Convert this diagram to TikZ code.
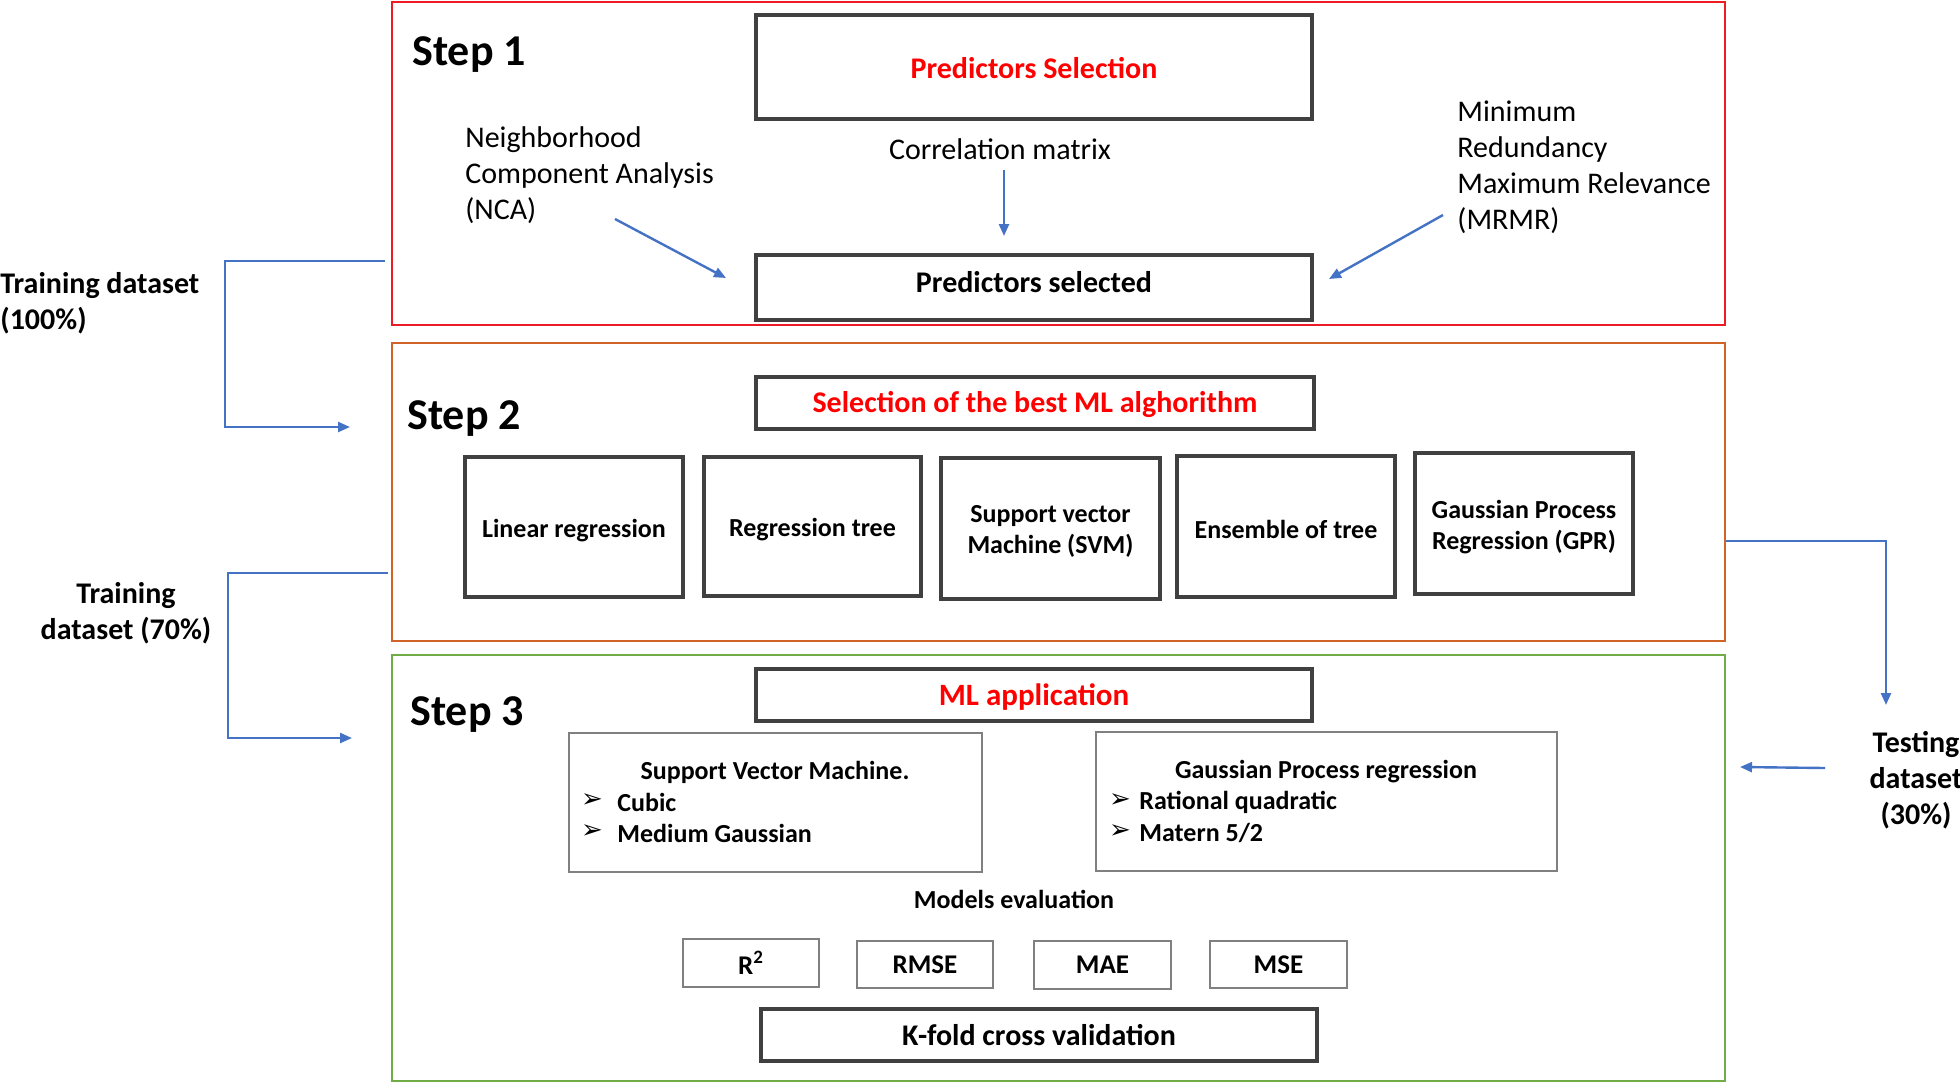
\documentclass[tikz,border=0pt]{standalone}
\usepackage{fontspec}
\setmainfont{Carlito}
\newfontfamily\dejavu{DejaVu Sans}
\usetikzlibrary{fit,arrows.meta}
\definecolor{stepred}{RGB}{237,28,36}
\definecolor{steporange}{RGB}{208,100,40}
\definecolor{stepgreen}{RGB}{112,173,71}
\definecolor{darkframe}{RGB}{64,64,64}
\definecolor{grayframe}{RGB}{128,128,128}
\definecolor{flowblue}{RGB}{68,114,196}
\definecolor{titlered}{RGB}{255,0,0}
\tikzset{
  stepframe/.style={draw=#1, line width=1.1pt, inner sep=0pt},
  darkbox/.style={draw=darkframe, line width=1.7pt, inner sep=0pt},
  graybox/.style={draw=grayframe, line width=1.1pt, inner sep=0pt},
  flow/.style={draw=flowblue, line width=1.2pt, -{Triangle[length=6pt,width=5pt]}},
  steplabel/.style={font=\fontsize{22}{26}\selectfont\bfseries, inner sep=0pt},
  redtitle/.style={font=\fontsize{15}{18}\selectfont\bfseries, text=titlered, inner sep=0pt},
  plaintext/.style={font=\fontsize{15}{18}\selectfont, inner sep=0pt, align=left},
  boxtext/.style={font=\fontsize{13}{15.5}\selectfont\bfseries, inner sep=0pt, align=center},
  algtext/.style={boxtext, yshift=-1.6pt},
  bullet/.style={font=\dejavu\fontsize{13}{15}\selectfont, inner sep=0pt},
  sidetext/.style={font=\fontsize{15}{18}\selectfont\bfseries, inner sep=0pt},
}
\begin{document}
\begin{tikzpicture}[x=0.5pt,y=-0.5pt]
\useasboundingbox (0,0) rectangle (1960,1083);
% step frames
\node[stepframe=stepred, fit={(392,2)(1725,325)}] (s1) {};
\node[stepframe=steporange, fit={(392,343)(1725,641)}] (s2) {};
\node[stepframe=stepgreen, fit={(392,655)(1725,1081)}] (s3) {};
\node[steplabel, anchor=west] (l1) at (412,55) {Step 1};
\node[steplabel, anchor=west] (l2) at (407,419) {Step 2};
\node[steplabel, anchor=west] (l3) at (410,715) {Step 3};

% step 1
\node[darkbox, fit={(756,15)(1312,119)}] (ps) {};
\node[redtitle] (pst) at ([yshift=-0.5pt]ps.center) {Predictors Selection};
\node[darkbox, fit={(756,255)(1312,320)}] (pd) {};
\node[font=\fontsize{15}{18}\selectfont\bfseries, inner sep=0pt] (pdt) at (1034,282) {Predictors selected};
\node[plaintext, anchor=center] (corr) at (1000,149) {Correlation matrix};
\node[plaintext, anchor=west] (nca) at (465,175) {Neighborhood\\Component Analysis\\(NCA)};
\node[plaintext, anchor=west] (mrmr) at (1457,167) {Minimum\\Redundancy\\Maximum Relevance\\(MRMR)};
\coordinate (ca) at (1004,170);
\coordinate (cb) at (1004,236);
\coordinate (na) at (615,219);
\coordinate (nb) at (726,278);
\coordinate (ma) at (1443,215);
\coordinate (mb) at (1329,279);
\draw[flow] (ca) -- (cb);
\draw[flow] (na) -- (nb);
\draw[flow] (ma) -- (mb);

% step 2
\node[darkbox, fit={(756,377)(1314,429)}] (sb) {};
\node[redtitle] (sbt) at ([yshift=-0.5pt]sb.center) {Selection of the best ML alghorithm};
\node[darkbox, fit={(465,457)(683,597)}] (m1) {};
\node[darkbox, fit={(704,457)(921,596)}] (m2) {};
\node[darkbox, fit={(941,458)(1160,599)}] (m3) {};
\node[darkbox, fit={(1177,456)(1395,597)}] (m4) {};
\node[darkbox, fit={(1415,453)(1633,594)}] (m5) {};
\node[algtext] at (m1.center) {Linear regression};
\node[algtext] at (m2.center) {Regression tree};
\node[algtext] at (m3.center) {Support vector\\Machine (SVM)};
\node[algtext] at (m4.center) {Ensemble of tree};
\node[algtext] at (m5.center) {Gaussian Process\\Regression (GPR)};

% step 3
\node[darkbox, fit={(756,669)(1312,721)}] (mla) {};
\node[redtitle, font=\fontsize{15.5}{18}\selectfont\bfseries] at (1034,697) {ML application};
\node[graybox, fit={(569,733)(982,872)}] (svm) {};
\node[graybox, fit={(1096,732)(1557,871)}] (gpr) {};
\node[boxtext] at (775,772) {Support Vector Machine.};
\node[bullet] at (592,801) {➢};
\node[boxtext, anchor=west] at (617,802) {Cubic};
\node[bullet] at (592,832) {➢};
\node[boxtext, anchor=west] at (617,833) {Medium Gaussian};
\node[boxtext] at (1326,772) {Gaussian Process regression};
\node[bullet] at (1120,801) {➢};
\node[boxtext, anchor=west] at (1139,802) {Rational quadratic};
\node[bullet] at (1120,832) {➢};
\node[boxtext, anchor=west] at (1139,833) {Matern 5/2};
\node[boxtext] (me) at (1014,899) {Models evaluation};
\node[graybox, fit={(683,939)(819,987)}] (r2) {};
\node[graybox, fit={(857,941)(993,988)}] (rmse) {};
\node[graybox, fit={(1034,941)(1171,989)}] (mae) {};
\node[graybox, fit={(1210,941)(1347,988)}] (mse) {};
\node[boxtext, font=\fontsize{13.5}{16}\selectfont\bfseries] at (r2.center) {R\textsuperscript{2}};
\node[boxtext, font=\fontsize{13.5}{16}\selectfont\bfseries] at (rmse.center) {RMSE};
\node[boxtext, font=\fontsize{13.5}{16}\selectfont\bfseries] at (mae.center) {MAE};
\node[boxtext, font=\fontsize{13.5}{16}\selectfont\bfseries] at (mse.center) {MSE};
\node[darkbox, fit={(761,1009)(1317,1061)}] (kf) {};
\node[font=\fontsize{15}{18}\selectfont\bfseries, inner sep=0pt] at (kf.center) {K-fold cross validation};

% side labels
\node[sidetext, anchor=west, align=left] (tr1) at (0,303) {Training dataset\\(100\%)};
\node[sidetext, align=center] (tr2) at (126,613) {Training\\dataset (70\%)};
\node[sidetext, align=center] (te) at (1916,780) {Testing\\dataset\\(30\%)};

% side connectors
\coordinate (b1s) at (385,261);
\coordinate (b1c) at (225,427);
\coordinate (b1e) at (350,427);
\draw[flow] (b1s) -| (b1c) -- (b1e);
\coordinate (b2s) at (388,573);
\coordinate (b2c) at (228,738);
\coordinate (b2e) at (352,738);
\draw[flow] (b2s) -| (b2c) -- (b2e);
\coordinate (t1s) at (1726,541);
\coordinate (t1e) at (1886,705);
\draw[flow] (t1s) -| (t1e);
\coordinate (t2s) at (1825,768);
\coordinate (t2e) at (1740,767);
\draw[flow] (t2s) -- (t2e);
\end{tikzpicture}
\end{document}
